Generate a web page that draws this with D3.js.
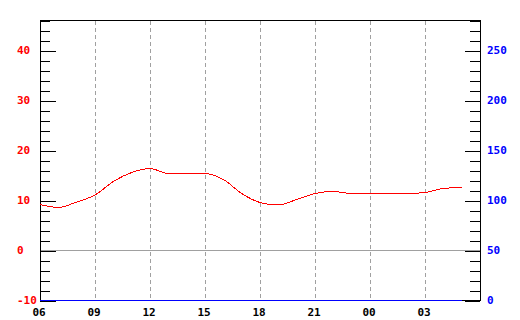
<!DOCTYPE html>
<html><head><meta charset="utf-8">
<script src="https://cdn.jsdelivr.net/npm/d3@7"></script>
<style>
html,body{margin:0;padding:0;background:#fff;}
svg{display:block;}
text{font-family:"DejaVu Sans Mono",monospace;font-weight:bold;font-size:11px;}
</style></head>
<body><svg id="c" width="520" height="320"></svg>
<script>
// hours since 06:00
const hours = [0,1,2,3,4,5,6,7,8,9,10,11,12,13,14,15,16,17,18,19,20,21,22,23];
const temperature = [9.1,8.5,9.6,11.0,13.7,15.5,16.3,15.3,15.3,15.3,14.1,11.3,9.5,9.0,10.1,11.3,11.7,11.3,11.3,11.3,11.3,11.5,12.3,12.5];
const precipitation = [0,0,0,0,0,0,0,0,0,0,0,0,0,0,0,0,0,0,0,0,0,0,0,0];
const xTickHours = [0,3,6,9,12,15,18,21];
const xTickLabels = ["06","09","12","15","18","21","00","03"];
const leftTicks = [-10,0,10,20,30,40];
const rightTicks = [0,50,100,150,200,250];

const svg = d3.select("#c");
const L=40,R=480,T=20,B=300;
const x = d3.scaleLinear().domain([0,24]).range([L,R]);
const yL = d3.scaleLinear().domain([-10,46]).range([B,T]);
const yR = d3.scaleLinear().domain([0,280]).range([B,T]);
const gray="#a0a0a0";

// vertical dashed grid
svg.append("g").selectAll("line").data(xTickHours.slice(1)).join("line")
  .attr("x1",d=>Math.round(x(d))+0.5).attr("x2",d=>Math.round(x(d))+0.5)
  .attr("y1",T+1).attr("y2",B)
  .attr("stroke",gray).attr("stroke-width",1).attr("stroke-dasharray","4,3")
  .attr("shape-rendering","crispEdges");

// zero line
svg.append("line").attr("x1",L).attr("x2",R)
  .attr("y1",Math.round(yL(0))+0.5).attr("y2",Math.round(yL(0))+0.5)
  .attr("stroke",gray).attr("shape-rendering","crispEdges");

// left ticks
const lMinor = d3.range(-10,47,2);
svg.append("g").attr("transform",`translate(${L},0.5)`)
  .call(d3.axisRight(yL).tickValues(lMinor).tickSize(10).tickFormat(""))
  .call(g=>g.select(".domain").remove())
  .selectAll("line").attr("stroke","#000").attr("shape-rendering","crispEdges");
svg.append("g").attr("transform",`translate(${L},0.5)`)
  .call(d3.axisRight(yL).tickValues(leftTicks).tickSize(16).tickFormat(""))
  .call(g=>g.select(".domain").remove())
  .selectAll("line").attr("stroke","#000").attr("shape-rendering","crispEdges");

// right ticks
const rMinor = d3.range(0,281,10);
svg.append("g").attr("transform",`translate(${R},0.5)`)
  .call(d3.axisLeft(yR).tickValues(rMinor).tickSize(10).tickFormat(""))
  .call(g=>g.select(".domain").remove())
  .selectAll("line").attr("stroke","#000").attr("shape-rendering","crispEdges");
svg.append("g").attr("transform",`translate(${R},0.5)`)
  .call(d3.axisLeft(yR).tickValues(rightTicks).tickSize(15).tickFormat(""))
  .call(g=>g.select(".domain").remove())
  .selectAll("line").attr("stroke","#000").attr("shape-rendering","crispEdges");

// frame
svg.append("rect").attr("x",L+0.5).attr("y",T+0.5).attr("width",R-L).attr("height",B-T)
  .attr("fill","none").attr("stroke","#000").attr("shape-rendering","crispEdges");

// left labels
svg.append("g").selectAll("text").data(leftTicks).join("text")
  .attr("x",17).attr("y",d=>yL(d)).attr("dy","0.36em")
  .attr("fill","#ff0000").text(d=>d);
// right labels
svg.append("g").selectAll("text").data(rightTicks).join("text")
  .attr("x",487).attr("y",d=>yR(d)).attr("dy","0.36em")
  .attr("fill","#0000ff").text(d=>d);

// bottom labels
svg.append("g").attr("transform",`translate(-1.5,${B})`)
  .call(d3.axisBottom(x).tickValues(xTickHours).tickSize(0).tickPadding(8)
    .tickFormat((d,i)=>xTickLabels[i]))
  .call(g=>g.select(".domain").remove())
  .selectAll("text").attr("fill","#000")
  .style("font-family","'DejaVu Sans Mono',monospace").style("font-weight","bold").style("font-size","11px");

// precipitation (right axis)
svg.append("path").datum(hours)
  .attr("d",d3.line().x(h=>x(h)).y((h,i)=>Math.round(yR(precipitation[i]))+0.5))
  .attr("fill","none").attr("stroke","#0000ff").attr("stroke-width",1)
  .attr("shape-rendering","crispEdges");

// temperature
svg.append("path").datum(hours)
  .attr("d",d3.line().curve(d3.curveMonotoneX).x(h=>x(h)).y((h,i)=>yL(temperature[i])))
  .attr("fill","none").attr("stroke","#ff0000").attr("stroke-width",1)
  .attr("shape-rendering","crispEdges");
</script></body></html>
